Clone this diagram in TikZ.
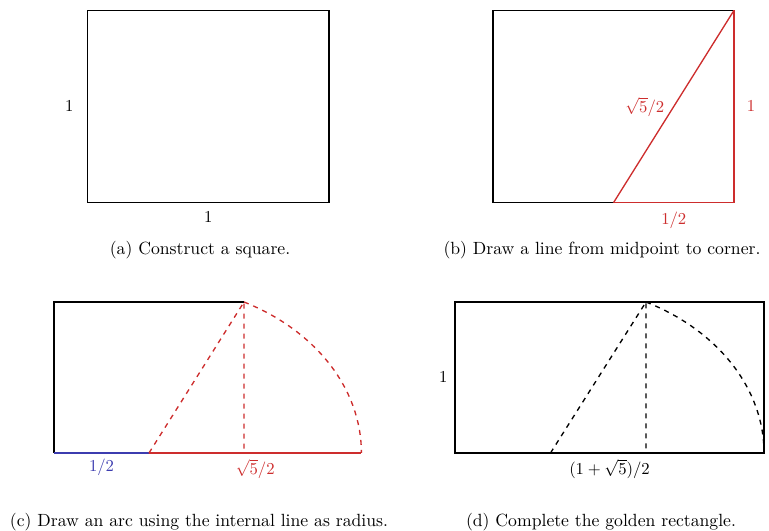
\documentclass[tikz,border=0pt]{standalone}
\usepackage{tikz}

\definecolor{segred}{RGB}{205,45,45}
\definecolor{segblue}{RGB}{60,60,175}

\begin{document}
\begin{tikzpicture}[x=0.6pt, y=0.6pt,
		edge/.style={thick},
		guide/.style={thick, dashed},
		capt/.style={font=\fontsize{10.6}{12}\selectfont}]
			\useasboundingbox (0,0) rectangle (769,531);
			% (a) the square
			\begin{scope}[shift={(87.7,328.3)}, x=144.8pt, y=115.4pt]
			\coordinate (aSW) at (0,0);
			\coordinate (aNE) at (1,1);
			\draw[edge] (aSW) rectangle (aNE);
			\node[left=5pt] (aSide) at (0,0.5) {$1$};
			\node[below=2pt] (aBase) at (0.5,0) {$1$};
			\end{scope}
			% (b) midpoint to corner
			\begin{scope}[shift={(493,328.3)}, x=144.6pt, y=115.4pt]
			\coordinate (bSW) at (0,0);
			\coordinate (bMid) at (0.5,0);
			\coordinate (bSE) at (1,0);
			\coordinate (bNE) at (1,1);
			\draw[edge] (bSW) rectangle (bNE);
			\draw[edge, segred] (bMid) -- node[left=2pt]{$\sqrt{5}/2$} (bNE);
			\draw[edge, segred] (bNE) -- node[right=4pt]{$1$} (bSE);
			\draw[edge, segred] (bMid) -- node[below=2pt]{$1/2$} (bSE);
			\end{scope}
			% (c) the arc
			\begin{scope}[shift={(54,78)}, x=114pt, y=90.6pt]
			\coordinate (cSW) at (0,0);
			\coordinate (cNW) at (0,1);
			\coordinate (cMid) at (0.5,0);
			\coordinate (cSE) at (1,0);
			\coordinate (cNE) at (1,1);
			\coordinate (cEnd) at (1.618,0);
			\draw[edge] (cNE) -- (cNW) -- (cSW);
			\draw[edge, segblue] (cSW) -- node[below]{$1/2$} (cMid);
			\draw[edge, segred] (cMid) -- node[below]{$\sqrt{5}/2$} (cEnd);
			\draw[guide, segred] (cMid) -- (cNE) -- (cSE);
			\draw[guide, segred] (cNE) arc[start angle=63.43, end angle=0, radius=1.118];
			\end{scope}
			% (d) the golden rectangle
			\begin{scope}[shift={(455,78)}, x=114.6pt, y=90.6pt]
			\coordinate (dSW) at (0,0);
			\coordinate (dMid) at (0.5,0);
			\coordinate (dFoot) at (1,0);
			\coordinate (dTop) at (1,1);
			\coordinate (dNE) at (1.618,1);
			\draw[edge] (dSW) rectangle (dNE);
			\draw[guide] (dMid) -- (dTop) -- (dFoot);
			\draw[guide] (dTop) arc[start angle=63.43, end angle=0, radius=1.118];
			\node[left=1pt] (dSide) at (0,0.5) {$1$};
			\node[below] (dBase) at (0.809,0) {$(1+\sqrt{5})/2$};
			\end{scope}
			% captions
			\node[capt] (capA) at (200,281) {(a) Construct a square.};
			\node[capt] (capB) at (602,281) {(b) Draw a line from midpoint to corner.};
			\node[capt] (capC) at (199,9) {(c) Draw an arc using the internal line as radius.};
			\node[capt] (capD) at (601,9) {(d) Complete the golden rectangle.};
\end{tikzpicture}
\end{document}
